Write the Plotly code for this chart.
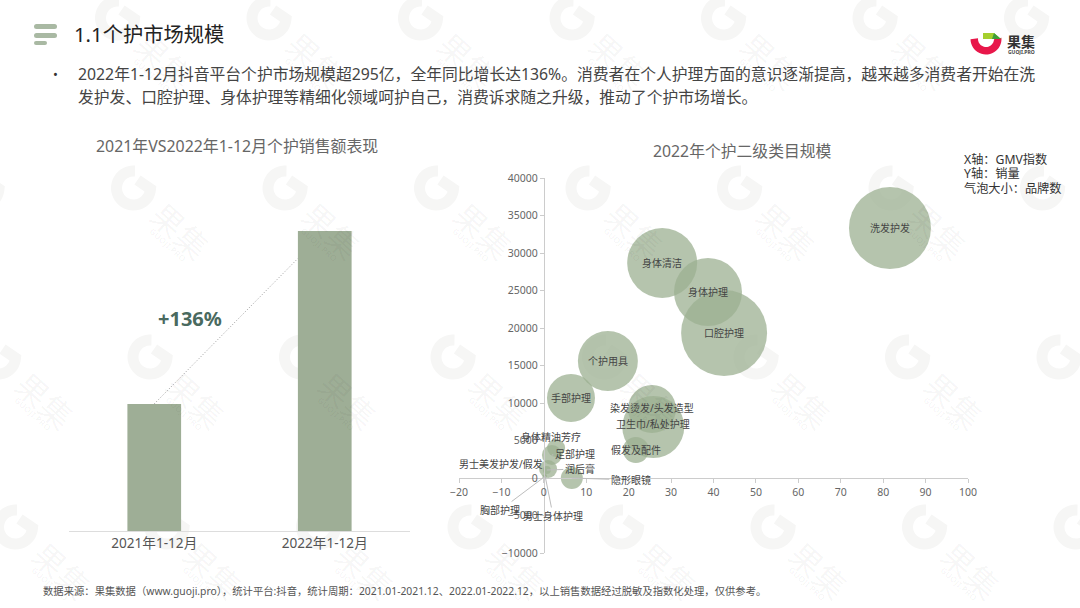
import math
import plotly.graph_objects as go

# ---- data ----
bar_categories = ["2021年1-12月", "2022年1-12月"]
bar_values = [125, 295]
bubble_categories = ["洗发护发", "身体清洁", "身体护理", "口腔护理", "个护用具", "手部护理",
                     "染发烫发/头发造型", "卫生巾/私处护理", "假发及配件", "身体精油芳疗", "足部护理",
                     "男士美发护发/假发", "润后膏", "隐形眼镜", "胸部护理", "男士身体护理"]
gmv_index = [81.6, 27.9, 38.7, 42.5, 15.1, 6.4, 25.5, 25.8, 21.7, 2.9, 1.9, 1.0, 0.7, 6.6, 0.1, 0.3]
sales_volume = [33330, 28670, 24800, 19330, 15600, 10670, 9200, 6800, 3730, 4000, 3070, 1200, 1070, 0, 130, 270]
brand_counts = [1681, 1225, 1156, 1849, 900, 576, 576, 961, 169, 81, 100, 81, 16, 121, 4, 4]
x_ticks = [-20, -10, 0, 10, 20, 30, 40, 50, 60, 70, 80, 90, 100]
y_ticks = [-10000, -5000, 0, 5000, 10000, 15000, 20000, 25000, 30000, 35000, 40000]

W, H = 1080, 608
FONT = "Noto Sans, Noto Sans CJK SC, sans-serif"
def px(x): return x / W
def py(y): return 1 - y / H

shapes, annos = [], []

def text(x, y, s, size, color, anchor="left", bold=False, angle=0):
    if anchor == "left":
        x -= 2
    annos.append(dict(xref="paper", yref="paper", x=px(x), y=py(y), text=f"<b>{s}</b>" if bold else s,
                      showarrow=False, xanchor=anchor, yanchor="middle", textangle=angle,
                      font=dict(size=size, color=color, family=FONT)))

def path(points, close=False):
    return "M " + " L ".join(f"{px(a):.5f} {py(b):.5f}" for a, b in points) + (" Z" if close else "")

def rrect(x0, y0, x1, y1, r, color):
    d = (f"M {px(x0+r)} {py(y0)} L {px(x1-r)} {py(y0)} Q {px(x1)} {py(y0)} {px(x1)} {py(y0+r)} "
         f"L {px(x1)} {py(y1-r)} Q {px(x1)} {py(y1)} {px(x1-r)} {py(y1)} L {px(x0+r)} {py(y1)} "
         f"Q {px(x0)} {py(y1)} {px(x0)} {py(y1-r)} L {px(x0)} {py(y0+r)} Q {px(x0)} {py(y0)} {px(x0+r)} {py(y0)} Z")
    shapes.append(dict(type="path", xref="paper", yref="paper", path=d, fillcolor=color, line_width=0, layer="above"))

# ---- watermark ----
WM = "#f6f6f5"
WM_TEXT = "rgba(0,0,0,0.04)"
for r, (ry, x0) in enumerate([(18, -34), (188, -18), (357, -1.5), (527, 15.5)]):
    for c in range(8):
        gx, gy = x0 + c * 151.5, ry
        arc = [(gx + 17 * math.cos(math.radians(a)), gy - 17 * math.sin(math.radians(a))) for a in range(85, 361, 8)]
        shapes.append(dict(type="path", xref="paper", yref="paper", path=path(arc + [(gx + 4, gy - 8)]),
                           line=dict(color=WM, width=11), layer="below"))
        if 32 < gx + 47 < W - 32 and gy + 41 < H - 32:
            text(gx + 46, gy + 43, "果集", 32, WM_TEXT, "center", False, 42)
            text(gx + 34, gy + 57, "GUOJI.PRO", 8.5, WM_TEXT, "center", True, 42)

# ---- header ----
rrect(34, 24, 57, 29, 2.5, "#a9b9a3")
rrect(34, 33, 57, 38, 2.5, "#a9b9a3")
rrect(34, 41, 47, 45, 2, "#a9b9a3")
text(74, 34, "1.1个护市场规模", 20.3, "#222222")
text(53, 74, "•", 13, "#333333")
text(78, 74, "2022年1-12月抖音平台个护市场规模超295亿，全年同比增长达136%。消费者在个人护理方面的意识逐渐提高，越来越多消费者开始在洗", 15.8, "#444444")
text(78, 97, "发护发、口腔护理、身体护理等精细化领域呵护自己，消费诉求随之升级，推动了个护市场增长。", 15.8, "#444444")

# logo
cx, cy = 986, 39
outer = [(cx + 15.5 * math.cos(math.radians(a)), cy + 15.5 * math.sin(math.radians(a))) for a in range(-5, 186, 8)]
inner = [(cx + 8 * math.cos(math.radians(a)), cy + 8 * math.sin(math.radians(a))) for a in range(185, -6, -8)]
shapes.append(dict(type="path", xref="paper", yref="paper", path=path(outer + inner, True), fillcolor="#e8174a", line_width=0))
shapes.append(dict(type="path", xref="paper", yref="paper", path=path([(983, 33), (994, 33), (1001, 39), (983, 39)], True), fillcolor="#a5cf2e", line_width=0))
shapes.append(dict(type="path", xref="paper", yref="paper", path=path([(994, 33), (1001, 39), (992, 39)], True), fillcolor="#3f9e3a", line_width=0))
text(1021, 41, "果集", 14, "#333333", "center", True)
text(1021, 52, "GUOJI.PRO", 5, "#444444", "center", True)

# ---- texts ----
text(237, 146, "2021年VS2022年1-12月个护销售额表现", 15.9, "#666666", "center")
text(742, 151, "2022年个护二级类目规模", 15.8, "#666666", "center")
text(964, 159, "X轴：GMV指数", 12.2, "#333333")
text(964, 174, "Y轴：销量", 12.2, "#333333")
text(964, 189, "气泡大小：品牌数", 12.2, "#333333")
text(190, 318, "+136%", 20, "#4a6a5f", "center", True)
text(43, 591, "数据来源：果集数据（www.guoji.pro），统计平台:抖音，统计周期：2021.01-2021.12、2022.01-2022.12，以上销售数据经过脱敏及指数化处理，仅供参考。", 10.33, "#555555")

# ---- bubble labels: (dx, dy) offset in pixels of the label from its bubble ----
label_offsets = {
    "染发烫发/头发造型": (0, -1), "卫生巾/私处护理": (0, -3),
    "身体精油芳疗": (-5, -11), "足部护理": (23, -1), "男士美发护发/假发": (-47, -5),
    "润后膏": (33, -1), "隐形眼镜": (59, 2), "胸部护理": (-44, 33), "男士身体护理": (8, 40),
}
leaders = {"足部护理", "润后膏", "隐形眼镜", "胸部护理", "男士身体护理"}
for name, xv, yv in zip(bubble_categories, gmv_index, sales_volume):
    dx, dy = label_offsets.get(name, (0, 0))
    annos.append(dict(xref="x", yref="y", x=xv, y=yv, text=name, showarrow=name in leaders,
                      ax=dx, ay=dy, axref="pixel", ayref="pixel", arrowhead=0, arrowwidth=1, arrowcolor="#bdbdbd",
                      standoff=0, startstandoff=0,
                      xshift=0 if name in leaders else dx, yshift=0 if name in leaders else -dy,
                      font=dict(size=10, color="#444444", family=FONT)))

fig = go.Figure()
fig.add_trace(go.Scatter(x=gmv_index, y=sales_volume, mode="markers", text=bubble_categories, hoverinfo="text",
                         cliponaxis=False,
                         marker=dict(size=brand_counts, sizemode="area", sizeref=0.5, color="#9cb092", opacity=0.75,
                                     line=dict(width=0)),
                         xaxis="x", yaxis="y", showlegend=False))
fig.add_trace(go.Bar(x=bar_categories, y=bar_values, width=0.315, marker=dict(color="#9eae96", line_width=0),
                     xaxis="x2", yaxis="y2", showlegend=False))

# dotted connector between the bars
shapes.append(dict(type="line", xref="x2", yref="y2", x0=0, y0=bar_values[0], x1=1 - 0.315 / 2, y1=268,
                   line=dict(color="#999999", width=1, dash="1px,2px")))

axis_font = dict(size=10.5, color="#666666", family=FONT)
fig.update_layout(
    width=W, height=H, autosize=False, margin=dict(l=0, r=0, t=0, b=0, pad=0, autoexpand=False),
    paper_bgcolor="white", plot_bgcolor="rgba(0,0,0,0)", font=dict(family=FONT),
    shapes=shapes, annotations=annos,
    xaxis=dict(domain=[459 / W, 968 / W], range=[-20, 100], tickvals=x_ticks, anchor="free", position=py(478),
               showgrid=False, zeroline=False, showline=True, linecolor="#cccccc", ticks="outside", ticklen=4,
               tickcolor="#cccccc", tickfont=axis_font),
    yaxis=dict(domain=[py(553), py(178)], range=[-10000, 40000], tickvals=y_ticks, anchor="free", position=px(543.8),
               showgrid=False, zeroline=False, showline=True, linecolor="#cccccc", ticks="outside", ticklen=4,
               tickcolor="#cccccc", tickfont=axis_font, tickformat="d"),
    xaxis2=dict(domain=[69 / W, 410 / W], anchor="y2", type="category", showgrid=False, zeroline=False, showline=True,
                linecolor="#dddddd", ticks="", tickfont=dict(size=13.6, color="#555555", family=FONT)),
    yaxis2=dict(domain=[py(531), py(190)], range=[0, 335.3], anchor="x2", visible=False),
)
fig.write_html("out.html", config={"displayModeBar": False},
               post_script="document.body.style.margin='0';document.body.style.overflow='hidden';")
